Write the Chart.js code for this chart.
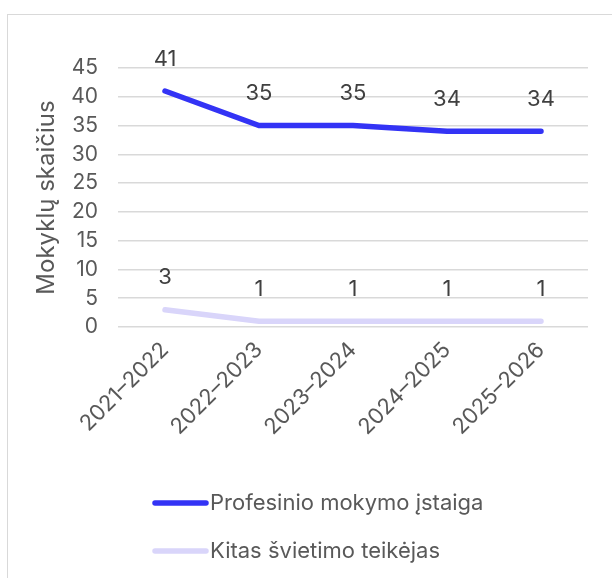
<!DOCTYPE html>
<html>
<head>
<meta charset="utf-8">
<script src="https://cdn.jsdelivr.net/npm/chart.js@4/dist/chart.umd.min.js"></script>
<style>
  html, body { margin: 0; padding: 0; overflow: hidden; background: #fff; }
  #frame { position: absolute; left: 7px; top: 14px; width: 640px; height: 600px; border: 1px solid #d9d9d9; }
  #wrap { position: absolute; left: 0; top: 0; width: 612px; height: 578px; }
</style>
</head>
<body>
<div id="frame"></div>
<div id="wrap"><canvas id="schoolsChart"></canvas></div>
<script>
const years = ['2021–2022', '2022–2023', '2023–2024', '2024–2025', '2025–2026'];
const vocational = [41, 35, 35, 34, 34];
const otherProviders = [3, 1, 1, 1, 1];
const seriesNames = ['Profesinio mokymo įstaiga', 'Kitas švietimo teikėjas'];

const FONT = 'Inter, "Liberation Sans", sans-serif';
const TEXT = '#595959';

// value labels above each point
const pointLabels = {
    id: 'pointLabels',
    afterDatasetsDraw(chart) {
        const c = chart.ctx;
        c.save();
        c.font = '22px ' + FONT;
        c.fillStyle = '#404040';
        c.textAlign = 'center';
        c.textBaseline = 'middle';
        chart.data.datasets.forEach((ds, i) => {
            chart.getDatasetMeta(i).data.forEach((pt, j) => {
                c.fillText(ds.data[j], pt.x, pt.y - 32);
            });
        });
        c.restore();
    }
};

// stacked legend under the axis labels
const stackedLegend = {
    id: 'stackedLegend',
    afterDraw(chart) {
        const c = chart.ctx;
        c.save();
        c.font = '22px ' + FONT;
        c.textBaseline = 'middle';
        chart.data.datasets.forEach((ds, i) => {
            const y = 503 + i * 48;
            c.strokeStyle = ds.borderColor;
            c.lineWidth = 5.5;
            c.lineCap = 'round';
            c.beginPath();
            c.moveTo(155, y);
            c.lineTo(206, y);
            c.stroke();
            c.fillStyle = TEXT;
            c.fillText(ds.label, 210, y);
        });
        c.restore();
    }
};

const ctx = document.querySelector('#schoolsChart').getContext('2d');
const schoolsChart = new Chart(ctx, {
    type: 'line',
    data: {
        labels: years,
        datasets: [
            {
                label: seriesNames[0],
                data: vocational,
                borderColor: '#3333f5',
                borderWidth: 5.5,
                borderCapStyle: 'round',
                pointRadius: 0,
                tension: 0
            },
            {
                label: seriesNames[1],
                data: otherProviders,
                borderColor: '#d9d5fa',
                borderWidth: 5.5,
                borderCapStyle: 'round',
                pointRadius: 0,
                tension: 0
            }
        ]
    },
    options: {
        responsive: true,
        maintainAspectRatio: false,
        animation: false,
        layout: { padding: { top: 68, right: 24, left: 0, bottom: 0 } },
        scales: {
            x: {
                offset: true,
                grid: { display: false },
                border: { display: false },
                ticks: {
                    minRotation: 45,
                    maxRotation: 45,
                    color: TEXT,
                    font: { family: FONT, size: 22 },
                    padding: 2
                },
                afterFit(scale) {
                    scale.height = 251;
                    scale.paddingLeft = 0;
                    scale.paddingRight = 0;
                }
            },
            y: {
                min: 0,
                max: 45,
                ticks: {
                    stepSize: 5,
                    color: TEXT,
                    font: { family: FONT, size: 21 },
                    padding: 20
                },
                grid: { color: '#d9d9d9', lineWidth: 1.5, drawTicks: false },
                border: { display: false },
                title: {
                    display: true,
                    text: 'Mokyklų skaičius',
                    color: TEXT,
                    font: { family: FONT, size: 24 },
                    padding: { top: 32, bottom: 0 }
                },
                afterFit(scale) { scale.width = 118; }
            }
        },
        plugins: {
            legend: { display: false },
            tooltip: { enabled: false }
        }
    },
    plugins: [pointLabels, stackedLegend]
});
</script>
</body>
</html>
